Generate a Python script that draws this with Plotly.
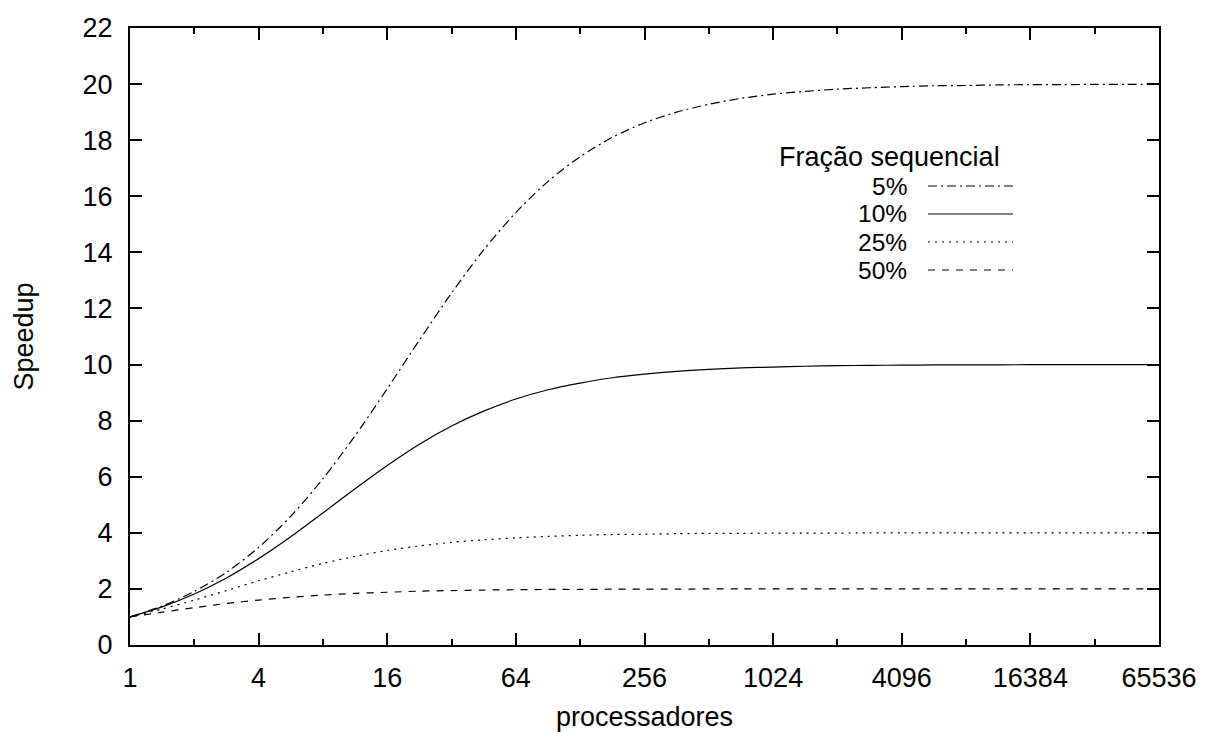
import plotly.graph_objects as go

# processors (x values), read along the log2 axis
processadores = [1, 1.414, 2, 2.828, 4, 5.657, 8, 11.31, 16, 22.63, 32, 45.25, 64, 90.51,
                 128, 181.0, 256, 362.0, 512, 724.1, 1024, 1448, 2048, 2896, 4096, 5793,
                 8192, 11585, 16384, 23170, 32768, 46341, 65536]

# speedup values for each sequential fraction
speedup_5 = [1.0, 1.39, 1.91, 2.59, 3.48, 4.59, 5.93, 7.46, 9.14, 10.87, 12.55, 14.09, 15.42,
             16.53, 17.41, 18.10, 18.62, 19.00, 19.28, 19.49, 19.64, 19.74, 19.82, 19.87,
             19.91, 19.94, 19.95, 19.97, 19.98, 19.98, 19.99, 19.99, 19.99]
speedup_10 = [1.0, 1.36, 1.82, 2.39, 3.08, 3.86, 4.71, 5.57, 6.40, 7.16, 7.81, 8.34, 8.77,
              9.10, 9.34, 9.53, 9.66, 9.76, 9.83, 9.88, 9.91, 9.94, 9.96, 9.97, 9.98, 9.985,
              9.99, 9.99, 9.995, 9.996, 9.997, 9.998, 9.999]
speedup_25 = [1.0, 1.28, 1.60, 1.94, 2.29, 2.61, 2.91, 3.16, 3.37, 3.53, 3.66, 3.75, 3.82,
              3.87, 3.91, 3.94, 3.95, 3.97, 3.98, 3.98, 3.99, 3.99, 3.99, 4.0, 4.0, 4.0,
              4.0, 4.0, 4.0, 4.0, 4.0, 4.0, 4.0]
speedup_50 = [1.0, 1.17, 1.33, 1.48, 1.60, 1.70, 1.78, 1.84, 1.88, 1.92, 1.94, 1.96, 1.97,
              1.98, 1.98, 1.99, 1.99, 1.99, 2.0, 2.0, 2.0, 2.0, 2.0, 2.0, 2.0, 2.0,
              2.0, 2.0, 2.0, 2.0, 2.0, 2.0, 2.0]

series_names = ["5%", "10%", "25%", "50%"]
series_values = [speedup_5, speedup_10, speedup_25, speedup_50]
legend_title = "Fração sequencial"

x_tickvals = [1, 4, 16, 64, 256, 1024, 4096, 16384, 65536]
x_ticktext = ["1", "4", "16", "64", "256", "1024", "4096", "16384", "65536"]
x_minor = [2, 8, 32, 128, 512, 2048, 8192, 32768]
y_tickvals = list(range(0, 23, 2))

dashes = ["9px,4px,2px,4px", "solid", "2px,5px", "7px,7px"]

FONT = "Liberation Sans, Arial, Helvetica, sans-serif"
FS = 27
FS_LEG = 24.5

fig = go.Figure()
for name, vals, dash in zip(series_names, series_values, dashes):
    fig.add_trace(go.Scatter(
        x=processadores, y=vals, mode="lines", name=name,
        line=dict(color="black", width=1.2, dash=dash, shape="spline", smoothing=0.8),
        showlegend=False,
    ))

L, R, T, B = 130, 49, 28, 88
W, H = 1208, 733
pw, ph = W - L - R, H - T - B

def px(x):
    return (x - L) / pw

def py(y):
    return (H - B - y) / ph

# manual gnuplot-style legend (text right-aligned, sample to the right)
fig.add_annotation(x=px(1002), y=py(157), xref="paper", yref="paper", text=legend_title,
                   showarrow=False, xanchor="right", yanchor="middle",
                   font=dict(family=FONT, size=FS, color="black"))
ys = [186, 214, 242, 270]
for name, dash, yy in zip(series_names, dashes, ys):
    fig.add_annotation(x=px(909), y=py(yy), xref="paper", yref="paper", text=name,
                       showarrow=False, xanchor="right", yanchor="middle",
                       font=dict(family=FONT, size=FS_LEG, color="black"))
    fig.add_shape(type="line", xref="paper", yref="paper",
                  x0=px(928), x1=px(1013), y0=py(yy), y1=py(yy),
                  line=dict(color="black", width=1.2, dash=dash))

axis_common = dict(
    showline=True, linecolor="black", linewidth=2, mirror="ticks",
    ticks="inside", tickcolor="black", tickwidth=1.5, ticklen=12,
    showgrid=False, zeroline=False, automargin=False,
    tickfont=dict(family=FONT, size=FS, color="black"),
)

fig.update_xaxes(
    type="log", range=[0, 4.81648], tickmode="array",
    tickvals=x_tickvals, ticktext=x_ticktext,
    ticklabelstandoff=8,
    minor=dict(tickvals=x_minor, ticks="inside", ticklen=6, tickcolor="black", tickwidth=1.5),
    title=dict(text="processadores", font=dict(family=FONT, size=FS, color="black"), standoff=15),
    **axis_common,
)
fig.update_yaxes(
    range=[0, 22], tickmode="array", tickvals=y_tickvals,
    ticklabelstandoff=10,
    title=dict(text="Speedup", font=dict(family=FONT, size=FS, color="black"), standoff=41),
    **axis_common,
)

fig.update_layout(
    width=W, height=H,
    margin=dict(l=L, r=R, t=T, b=B),
    paper_bgcolor="white", plot_bgcolor="white",
    font=dict(family=FONT, size=FS, color="black"),
)

fig.write_html("out.html")
